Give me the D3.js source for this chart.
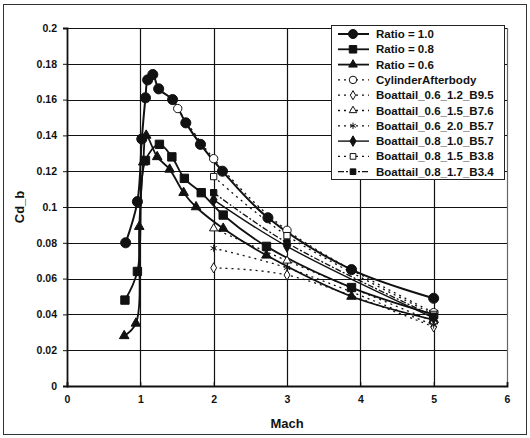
<!DOCTYPE html>
<html>
<head>
<meta charset="utf-8">
<script src="https://cdn.jsdelivr.net/npm/d3@7"></script>
<style>
  body { margin: 0; background: #fff; }
  svg { display: block; }
  text { font-family: "Liberation Sans", Arial, sans-serif; font-weight: bold; fill: #111; }
</style>
</head>
<body>
<div id="chart"></div>
<script>
///
/// Data
///
var machTicks = [0, 1, 2, 3, 4, 5, 6];
var cdTicks = [0, 0.02, 0.04, 0.06, 0.08, 0.1, 0.12, 0.14, 0.16, 0.18, 0.2];

var ratio10 = [[0.80,0.080],[0.96,0.103],[1.02,0.138],[1.07,0.161],[1.10,0.171],[1.17,0.174],
               [1.25,0.166],[1.44,0.160],[1.62,0.147],[1.82,0.135],[2.12,0.120],[2.74,0.094],
               [3.88,0.065],[5.00,0.049]];
var ratio08 = [[0.79,0.048],[0.96,0.064],[1.07,0.126],[1.26,0.135],[1.43,0.128],[1.60,0.116],
               [1.83,0.108],[2.13,0.0955],[2.72,0.078],[3.88,0.055],[5.00,0.040]];
var ratio06 = [[0.78,0.028],[0.94,0.035],[0.985,0.089],[1.04,0.125],[1.08,0.140],[1.23,0.128],
               [1.40,0.121],[1.59,0.108],[1.76,0.100],[2.13,0.088],[2.72,0.073],[3.88,0.050],
               [5.00,0.037]];
var cylinderAfterbody = [[1.51,0.155],[2.0,0.127],[3.0,0.087],[5.0,0.041]];
var bt06_12_B95 = [[2.0,0.066],[3.0,0.062],[5.0,0.033]];
var bt06_15_B76 = [[2.0,0.088],[3.0,0.070],[5.0,0.036]];
var bt06_20_B57 = [[2.0,0.077],[3.0,0.066],[5.0,0.034]];
var bt08_10_B57 = [[2.0,0.104],[3.0,0.078],[5.0,0.038]];
var bt08_15_B38 = [[2.0,0.117],[3.0,0.084],[5.0,0.040]];
var bt08_17_B34 = [[2.0,0.108],[3.0,0.080],[5.0,0.039]];

var seriesNames = ["Ratio = 1.0", "Ratio = 0.8", "Ratio = 0.6", "CylinderAfterbody",
  "Boattail_0.6_1.2_B9.5", "Boattail_0.6_1.5_B7.6", "Boattail_0.6_2.0_B5.7",
  "Boattail_0.8_1.0_B5.7", "Boattail_0.8_1.5_B3.8", "Boattail_0.8_1.7_B3.4"];
var seriesData = [ratio10, ratio08, ratio06, cylinderAfterbody, bt06_12_B95, bt06_15_B76,
  bt06_20_B57, bt08_10_B57, bt08_15_B38, bt08_17_B34];

///
/// Styles
///
var styles = [
  { sym: d3.symbolCircle,   size: 80, fill: "#111", width: 2,   dash: null },
  { sym: d3.symbolSquare,   size: 70, fill: "#111", width: 1.8, dash: null },
  { sym: d3.symbolTriangle, size: 40, fill: "#111", width: 1.8, dash: null },
  { sym: d3.symbolCircle,   size: 55, fill: "#fff", width: 1.3, dash: "2,4" },
  { sym: d3.symbolDiamond,  size: 30, fill: "#fff", width: 1.3, dash: "2,4" },
  { sym: d3.symbolTriangle, size: 30, fill: "#fff", width: 1.3, dash: "2,4" },
  { sym: d3.symbolAsterisk, size: 35, fill: "none", width: 1.3, dash: "2,4" },
  { sym: d3.symbolDiamond,  size: 40, fill: "#111", width: 1.4, dash: null },
  { sym: d3.symbolSquare,   size: 40, fill: "#fff", width: 1.3, dash: "2,4" },
  { sym: d3.symbolSquare,   size: 40, fill: "#111", width: 1.3, dash: "6,2,2,2" }
];

var width = 530, height = 438;
var svg = d3.select("#chart").append("svg").attr("width", width).attr("height", height);

// outer chart border
svg.append("rect").attr("x", 3.5).attr("y", 4.5).attr("width", 523).attr("height", 430)
  .attr("fill", "none").attr("stroke", "#333").attr("stroke-width", 1);

var x = d3.scaleLinear().domain([0, 6]).range([67, 507]);
var y = d3.scaleLinear().domain([0, 0.2]).range([386, 28]);

// grid
svg.append("g").selectAll("line").data(cdTicks.slice(1)).join("line")
  .attr("x1", x(0)).attr("x2", x(6))
  .attr("y1", d => Math.round(y(d)) + 0.5).attr("y2", d => Math.round(y(d)) + 0.5)
  .attr("stroke", "#111").attr("stroke-width", 1.2);
svg.append("g").selectAll("line").data(machTicks.slice(1)).join("line")
  .attr("y1", y(0)).attr("y2", y(0.2))
  .attr("x1", d => Math.round(x(d)) + 0.5).attr("x2", d => Math.round(x(d)) + 0.5)
  .attr("stroke", d => d === 6 ? "#666" : "#111").attr("stroke-width", 1.2);

// axes
var xAxis = svg.append("g").attr("transform", "translate(0," + y(0) + ")")
  .call(d3.axisBottom(x).tickValues(machTicks).tickSize(-4).tickPadding(10).tickFormat(d3.format("d")));
var yAxis = svg.append("g").attr("transform", "translate(" + x(0) + ",0)")
  .call(d3.axisLeft(y).tickValues(cdTicks).tickSize(4).tickPadding(6).tickFormat(d => d === 0 ? "0" : String(+d.toFixed(2))));
[xAxis, yAxis].forEach(a => {
  a.select(".domain").attr("stroke", "#111").attr("stroke-width", 1.8);
  a.selectAll(".tick line").attr("stroke", "#111");
  a.selectAll("text").attr("font-size", 10.5).attr("font-family", "Liberation Sans, Arial, sans-serif")
    .attr("font-weight", "bold").attr("fill", "#111");
});

svg.append("text").attr("x", x(3)).attr("y", 428).attr("text-anchor", "middle")
  .attr("font-size", 13).text("Mach");
svg.append("text").attr("transform", "translate(24," + y(0.1) + ") rotate(-90)")
  .attr("text-anchor", "middle").attr("font-size", 13).text("Cd_b");

// series
var line = d3.line().x(d => x(d[0])).y(d => y(d[1])).curve(d3.curveCatmullRom.alpha(0.5));

seriesData.forEach((data, i) => {
  var s = styles[i];
  var g = svg.append("g");
  g.append("path").datum(data).attr("d", line)
    .attr("fill", "none").attr("stroke", "#111").attr("stroke-width", s.width)
    .attr("stroke-dasharray", s.dash);
  g.selectAll("path.m").data(data).join("path").attr("class", "m")
    .attr("transform", d => "translate(" + x(d[0]) + "," + y(d[1]) + ")")
    .attr("d", d3.symbol().type(s.sym).size(s.size))
    .attr("fill", s.fill).attr("stroke", "#111").attr("stroke-width", 1);
});

// legend
var lg = svg.append("g").attr("transform", "translate(331,25)");
lg.append("rect").attr("x", 0.5).attr("y", 0.5).attr("width", 173).attr("height", 154)
  .attr("fill", "#fff").attr("stroke", "#222").attr("stroke-width", 1);
seriesNames.forEach((name, i) => {
  var s = styles[i];
  var ly = 9 + i * 15.3;
  lg.append("line").attr("x1", 7).attr("x2", 38).attr("y1", ly).attr("y2", ly)
    .attr("stroke", "#111").attr("stroke-width", s.width).attr("stroke-dasharray", s.dash);
  lg.append("path").attr("transform", "translate(22," + ly + ")")
    .attr("d", d3.symbol().type(s.sym).size(s.size * 0.8))
    .attr("fill", s.fill).attr("stroke", "#111").attr("stroke-width", 1);
  lg.append("text").attr("x", 45).attr("y", ly + 4).attr("font-size", 11.5).text(name);
});
</script>
</body>
</html>
